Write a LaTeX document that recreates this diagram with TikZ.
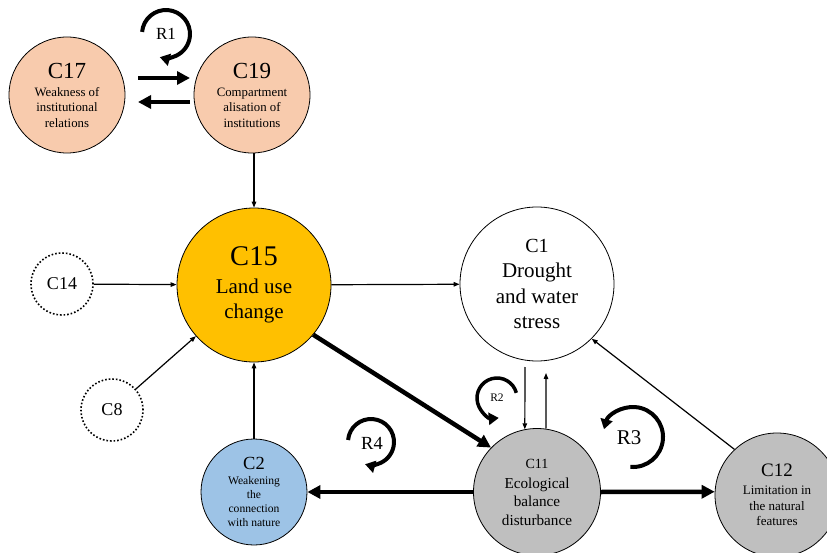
\documentclass[tikz,border=0pt]{standalone}
\usepackage{fontspec}
\setmainfont{Liberation Serif}
\usetikzlibrary{arrows.meta,calc}
\definecolor{peach}{HTML}{F8CBAD}
\definecolor{landorange}{HTML}{FFC000}
\definecolor{natblue}{HTML}{9DC3E6}
\definecolor{ecogrey}{HTML}{BFBFBF}
\newcommand{\setfs}[2]{\fontsize{#1}{#2}\selectfont}
\begin{document}
\begin{tikzpicture}[x=1pt,y=-1pt,
  cnode/.style={circle,draw=black,line width=0.8pt,inner sep=0pt,align=center},
  dotnode/.style={circle,draw=black,line width=1.6pt,dotted,inner sep=0pt,minimum size=62pt,font=\setfs{18}{20}},
  thinarr/.style={line width=1.2pt,-{Triangle[length=6pt,width=4.5pt]}},
  thickarr/.style={line width=4.5pt,-{Triangle[length=13pt,width=13pt]}},
  looparr/.style={line width=4pt,-{Triangle[length=10pt,width=12pt]}},
  looplabel/.style={inner sep=0pt}
]
\path[use as bounding box] (0,0) rectangle (827,553);

% nodes
\node[cnode,fill=peach,minimum size=116pt,font=\setfs{12.8}{15.5}] (C17) at (67,95)
  {{\setfs{23}{24}C17}\\[2.5pt]Weakness of\\institutional\\relations};
\node[cnode,fill=peach,minimum size=116pt,font=\setfs{12.8}{15.5}] (C19) at (252,95)
  {{\setfs{23}{24}C19}\\[2.5pt]Compartment\\alisation of\\institutions};
\node[cnode,fill=landorange,minimum size=154pt,font=\setfs{21}{25}] (C15) at (254,285)
  {{\setfs{28.5}{30}C15}\\[3pt]Land use\\change};
\node[cnode,fill=white,minimum size=154pt,font=\setfs{21}{25.5}] (C1) at (537,284)
  {{\setfs{20}{25}C1}\\Drought\\and water\\stress};
\node[dotnode] (C14) at (62,284) {C14};
\node[dotnode] (C8) at (112,410) {C8};
\node[cnode,fill=natblue,minimum size=106pt,font=\setfs{11.6}{14.2}] (C2) at (254,492)
  {{\setfs{18.5}{20}C2}\\[1pt]Weakening\\the\\connection\\with nature};
\node[cnode,fill=ecogrey,minimum size=127pt,font=\setfs{15.2}{18.5}] (C11) at (537,492)
  {{\setfs{14}{19}C11}\\[1.5pt]Ecological\\balance\\disturbance};
\node[cnode,fill=ecogrey,minimum size=124pt,font=\setfs{13}{15.5}] (C12) at (777,495)
  {{\setfs{19}{18}C12}\\[2.5pt]Limitation in\\the natural\\features};

% connectors
\draw[thickarr] ($(C17.center)+(71,-17)$) -- ($(C19.center)+(-62,-17)$);
\draw[thickarr] ($(C19.center)+(-62,7)$) -- ($(C17.center)+(71,7)$);
\draw[thinarr] (C15.north |- C19.south) -- (C15.north);
\draw[thinarr] (C14) -- (C15);
\draw[thinarr] (C8) -- (C15);
\draw[thinarr] (C2) -- (C15);
\draw[thinarr] (C15) -- (C1);
\draw[thickarr] (C15.-40) -- (C11.136);
\draw[thickarr] (C11) -- (C2);
\draw[thickarr] (C11.east) -- (C12.177.5);
\draw[thinarr] (C12.133) -- (C1.-45);
\draw[thinarr] ($(C1.center)+(-12,83)$) -- (C11.101);
\draw[thinarr] (C11.82) -- ($(C1.center)+(9,89)$);

% loops
\coordinate (L1) at (166,34);
\coordinate (L2) at (497,398);
\coordinate (L3) at (633,437);
\coordinate (L4) at (371,442);
\draw[looparr] ($(L1)+(175:24pt)$) arc[start angle=175,end angle=-105,radius=24pt];
\draw[looparr,line width=3.5pt] ($(L2)+(15:20pt)$) arc[start angle=15,end angle=275,radius=20pt];
\draw[looparr] ($(L3)+(-95:30pt)$) arc[start angle=-95,end angle=165,radius=30pt];
\draw[looparr] ($(L4)+(175:23pt)$) arc[start angle=175,end angle=-105,radius=23pt];
\node[looplabel,font=\setfs{17}{17}] (R1) at (L1) {R1};
\node[looplabel,font=\setfs{11.5}{12}] (R2) at (L2) {R2};
\node[looplabel,font=\setfs{21}{21}] (R3) at ($(L3)+(-4,1)$) {R3};
\node[looplabel,font=\setfs{18.5}{19}] (R4) at ($(L4)+(1,1)$) {R4};
\end{tikzpicture}
\end{document}
